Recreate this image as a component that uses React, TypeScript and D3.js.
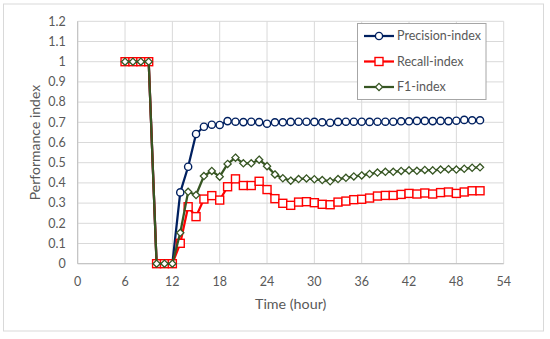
import React from "react";
import * as d3 from "d3";

const hours = [6,7,8,9,10,11,12,13,14,15,16,17,18,19,20,21,22,23,24,25,26,27,28,29,30,31,32,33,34,35,36,37,38,39,40,41,42,43,44,45,46,47,48,49,50,51];
const precision = [1,1,1,1,0,0,0,0.353,0.48,0.642,0.678,0.688,0.687,0.706,0.703,0.701,0.703,0.701,0.693,0.700,0.700,0.702,0.703,0.703,0.702,0.700,0.698,0.702,0.703,0.703,0.703,0.702,0.703,0.703,0.703,0.705,0.705,0.707,0.707,0.706,0.707,0.706,0.708,0.712,0.710,0.710];
const recall = [1,1,1,1,0,0,0,0.101,0.282,0.233,0.320,0.337,0.315,0.381,0.420,0.387,0.387,0.408,0.367,0.322,0.299,0.289,0.305,0.307,0.302,0.294,0.292,0.305,0.310,0.317,0.319,0.325,0.335,0.338,0.338,0.343,0.348,0.345,0.350,0.345,0.352,0.355,0.348,0.355,0.361,0.361];
const f1 = [1,1,1,1,0,0,0,0.153,0.356,0.340,0.434,0.459,0.431,0.494,0.525,0.497,0.497,0.515,0.483,0.442,0.423,0.411,0.419,0.422,0.418,0.414,0.408,0.419,0.425,0.432,0.437,0.444,0.451,0.455,0.455,0.459,0.462,0.460,0.464,0.462,0.466,0.468,0.466,0.470,0.475,0.477];
const xTicks = [0,6,12,18,24,30,36,42,48,54];
const yTicks = [0,0.1,0.2,0.3,0.4,0.5,0.6,0.7,0.8,0.9,1,1.1,1.2];
const seriesNames = ["Precision-index", "Recall-index", "F1-index"];

const FONT = "Lato, 'Liberation Sans', sans-serif";
const TXT = "#595959";

export default function App() {
  const W = 550, H = 339;
  const left = 77.7, right = 503.7, top = 21.3, bottom = 263.7;
  const x = d3.scaleLinear().domain([0, 54]).range([left, right]);
  const y = d3.scaleLinear().domain([0, 1.2]).range([bottom, top]);

  const series = [
    { name: seriesNames[0], values: precision, color: "#002060", shape: "circle" },
    { name: seriesNames[1], values: recall, color: "#FF0000", shape: "square" },
    { name: seriesNames[2], values: f1, color: "#375623", shape: "diamond" },
  ];

  const line = d3.line<[number, number]>().x(d => x(d[0])).y(d => y(d[1]));

  const marker = (shape: string, cx: number, cy: number, color: string, key: any) => {
    if (shape === "circle")
      return <circle key={key} cx={cx} cy={cy} r={3.6} fill="#fff" stroke={color} strokeWidth={1.4} />;
    if (shape === "square")
      return <rect key={key} x={cx - 4} y={cy - 4} width={8} height={8} fill="#fff" stroke={color} strokeWidth={1.4} />;
    const s = 3.6;
    return <path key={key} d={`M${cx},${cy - s}L${cx + s},${cy}L${cx},${cy + s}L${cx - s},${cy}Z`} fill="#fff" stroke={color} strokeWidth={1.3} />;
  };

  const legX = 357.5, legY = 23.5, legW = 128.5, legH = 76;
  const rowYs = [36, 61.5, 87];

  return (
    <svg width={W} height={H} style={{ position: "absolute", left: 0, top: 0, background: "#fff" }}>
      <rect x={3.5} y={4} width={540} height={327} fill="#fff" stroke="#d9d9d9" strokeWidth={1} />
      {yTicks.map((t, i) => (
        <line key={"gy" + i} x1={left} x2={right} y1={y(t)} y2={y(t)} stroke="#d9d9d9" strokeWidth={1} />
      ))}
      {xTicks.map((t, i) => (
        <line key={"gx" + i} x1={x(t)} x2={x(t)} y1={top} y2={bottom} stroke="#d9d9d9" strokeWidth={1} />
      ))}
      <line x1={left} x2={left} y1={top} y2={bottom} stroke="#bfbfbf" strokeWidth={1} />
      <line x1={left} x2={right} y1={bottom} y2={bottom} stroke="#bfbfbf" strokeWidth={1} />
      {yTicks.map((t, i) => (
        <text key={"ty" + i} x={left - 12} y={y(t)} dy="0.35em" textAnchor="end" fontFamily={FONT} fontSize={12.5} fill={TXT}>
          {d3.format("~g")(t)}
        </text>
      ))}
      {xTicks.map((t, i) => (
        <text key={"tx" + i} x={x(t)} y={bottom + 18} dy="0.35em" textAnchor="middle" fontFamily={FONT} fontSize={12.5} fill={TXT}>
          {t}
        </text>
      ))}
      <text x={(left + right) / 2} y={304} dy="0.35em" textAnchor="middle" fontFamily={FONT} fontSize={14.3} fill={TXT}>Time (hour)</text>
      <text transform={`translate(35,${(top + bottom) / 2}) rotate(-90)`} dy="0.35em" textAnchor="middle" fontFamily={FONT} fontSize={14} fill={TXT}>Performance index</text>

      {series.map((s, si) => {
        const pts: [number, number][] = hours.map((h, i) => [h, s.values[i]]);
        return (
          <g key={"s" + si}>
            <path d={line(pts) || ""} fill="none" stroke={s.color} strokeWidth={2.25} strokeLinejoin="round" />
            {pts.map((p, i) => marker(s.shape, x(p[0]), y(p[1]), s.color, i))}
          </g>
        );
      })}

      <rect x={legX} y={legY} width={legW} height={legH} fill="#fff" stroke="#a6a6a6" strokeWidth={1} />
      {series.map((s, i) => (
        <g key={"l" + i}>
          <line x1={364} x2={394} y1={rowYs[i]} y2={rowYs[i]} stroke={s.color} strokeWidth={2.25} />
          {marker(s.shape, 379, rowYs[i], s.color, "m")}
          <text x={397} y={rowYs[i]} dy="0.35em" fontFamily={FONT} fontSize={12.5} fill={TXT}>{s.name}</text>
        </g>
      ))}
    </svg>
  );
}
